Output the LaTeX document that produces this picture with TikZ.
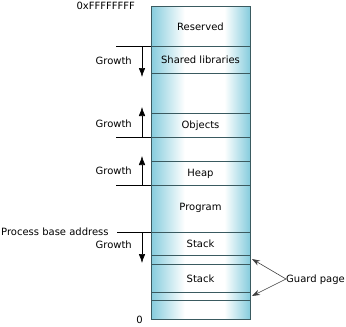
\documentclass[tikz,border=0pt]{standalone}
\usepackage{fontspec}
\setmainfont{DejaVu Sans}
\usetikzlibrary{arrows.meta,positioning}
\definecolor{memcyan}{HTML}{86CCDD}
\definecolor{edgeslate}{HTML}{3A5A60}
\definecolor{pointergray}{HTML}{404040}
\pgfdeclarehorizontalshading{columnfade}{100bp}{color(0bp)=(memcyan); color(25bp)=(memcyan);
  color(42bp)=(white); color(62bp)=(white); color(75bp)=(memcyan); color(100bp)=(memcyan)}

\begin{document}
\begin{tikzpicture}[
  x=1pt, y=-1pt,
  font=\fontsize{10}{12}\selectfont,
  txt/.style={inner sep=0pt, text height=7.3pt, text depth=0pt},
  divider/.style={draw=edgeslate, line width=.6pt},
  tick/.style={draw=black, line width=.5pt},
  growth/.style={-{Latex[length=9pt,width=6.5pt]}, line width=.6pt},
  pointer/.style={-{Stealth[length=8pt,width=5.5pt]}, draw=pointergray, line width=.6pt}
]
\useasboundingbox (0,0) rectangle (346,327);

% The address space column
\shade[shading=columnfade] (151,6) rectangle (250,319);
\foreach \y in {46,73,113,137,161,185,232,255,264,292,300}
  \draw[divider] (151,\y) -- (250,\y);
\draw[edgeslate, line width=1pt] (151,6) rectangle (250,319);

\node[txt] (reserved) at (200.5,27) {Reserved};
\node[txt] (shared) at (200.5,60) {Shared libraries};
\node[txt] (objects) at (200.5,125) {Objects};
\node[txt] (heap) at (200.5,173) {Heap};
\node[txt] (program) at (200.5,207) {Program};
\node[txt] (stackA) at (200.5,244) {Stack};
\node[txt] (stackB) at (200.5,279) {Stack};

% Address bounds
\node[txt, anchor=east] (topaddr) at (135,6) {0xFFFFFFFF};
\node[txt, anchor=east] (zeroaddr) at (143,320) {0};

% Growth directions
\draw[tick] (116,46) -- (151,46);
\draw[tick] (116,137) -- (151,137);
\draw[tick] (116,185) -- (151,185);
\draw[tick] (117,232) -- (151,232);
\coordinate (libstart) at (142,46);   \coordinate (libtip) at (142,77);
\coordinate (objstart) at (142,137);  \coordinate (objtip) at (142,107);
\coordinate (heapstart) at (142,185); \coordinate (heaptip) at (142,156);
\coordinate (stackstart) at (142,232); \coordinate (stacktip) at (142,263);
\draw[growth] (libstart) -- (libtip);
\draw[growth] (objstart) -- (objtip);
\draw[growth] (heapstart) -- (heaptip);
\draw[growth] (stackstart) -- (stacktip);
\node[txt, anchor=east] (growA) at (132,61) {Growth};
\node[txt, anchor=east] (growB) at (132,124) {Growth};
\node[txt, anchor=east] (growC) at (132,171) {Growth};
\node[txt, anchor=east] (growD) at (132,245) {Growth};
\node[txt, anchor=west] (base) at (1,232) {Process base address};

% Guard pages
\node[txt, anchor=west] (guard) at (286,279) {Guard page};
\coordinate (guardA) at (252,259);
\coordinate (guardB) at (252,296);
\draw[pointer] (guard.west) -- (guardA);
\draw[pointer] (guard.west) -- (guardB);

\end{tikzpicture}
\end{document}
